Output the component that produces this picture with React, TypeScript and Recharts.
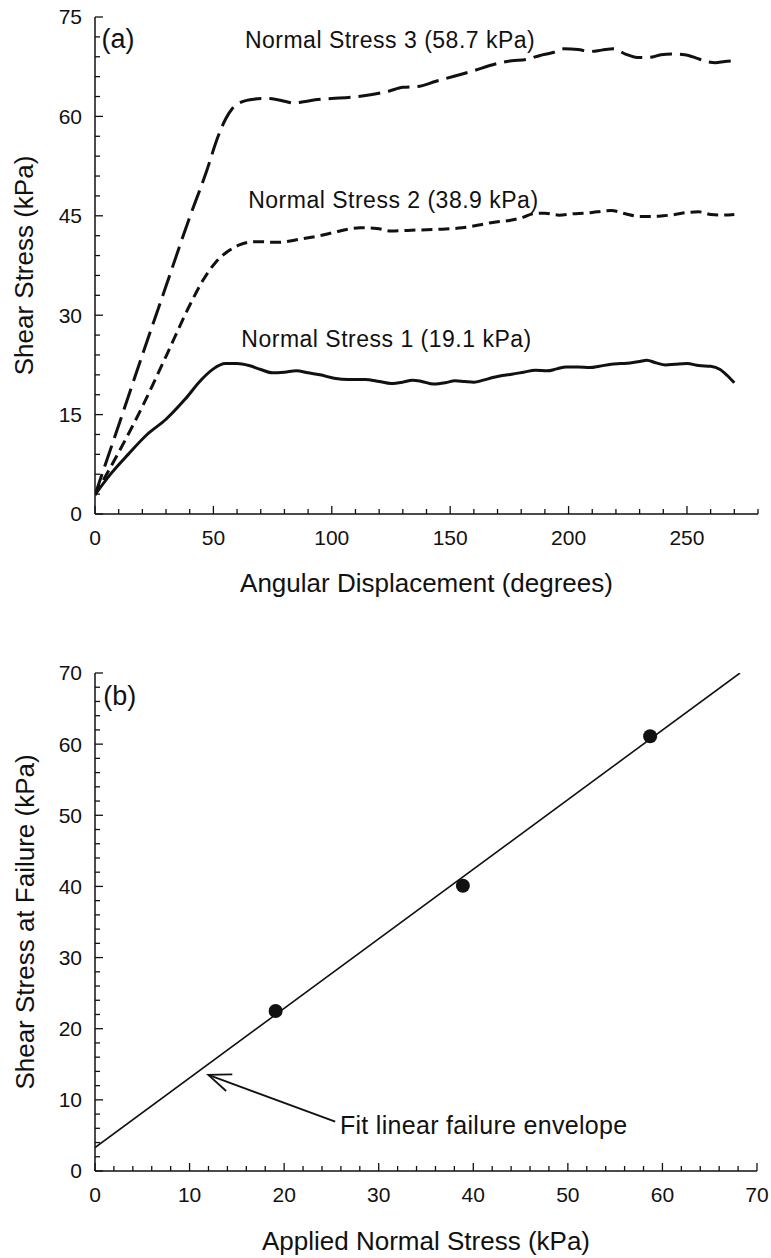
import React from "react";
import {
  LineChart,
  Line,
  ComposedChart,
  Scatter,
  XAxis,
  YAxis,
  Label,
  ReferenceDot,
  ReferenceLine,
} from "recharts";

const FONT = '"Liberation Sans", Arial, Helvetica, sans-serif';
const INK = "#111";

// (a) shear stress vs angular displacement, one pair of arrays per normal stress
const ns1Deg = [0, 7, 14, 22, 30, 38, 45, 50, 55, 60, 65, 70, 75, 80, 85, 90, 95, 101, 107, 114, 120, 125, 130, 134, 138, 143, 148, 152, 156, 160, 164, 168, 172, 176, 181, 186, 191, 195, 199, 204, 209, 213, 218, 222, 226, 230, 233, 237, 241, 245, 250, 255, 260, 264, 267, 270];
const ns1Shear = [2.9, 6.2, 9.0, 12.0, 14.3, 17.3, 20.3, 21.9, 22.7, 22.7, 22.4, 21.8, 21.3, 21.4, 21.6, 21.3, 21.0, 20.5, 20.3, 20.3, 20.0, 19.7, 19.9, 20.2, 20.0, 19.6, 19.8, 20.1, 20.0, 19.9, 20.2, 20.6, 20.9, 21.1, 21.4, 21.7, 21.6, 21.9, 22.2, 22.2, 22.1, 22.3, 22.6, 22.7, 22.8, 23.0, 23.2, 22.8, 22.5, 22.6, 22.7, 22.4, 22.3, 21.8, 20.9, 19.8];

const ns2Deg = [0, 10, 20, 30, 40, 46, 51, 56, 61, 68, 77, 87, 95, 101, 107, 112, 119, 125, 132, 140, 148, 155, 162, 168, 175, 181, 185, 190, 196, 202, 207, 212, 218, 224, 230, 236, 240, 245, 250, 255, 260, 265, 270];
const ns2Shear = [2.9, 9.3, 16.2, 23.8, 31.5, 35.5, 38.0, 39.6, 40.6, 41.1, 41.0, 41.5, 42.0, 42.5, 43.0, 43.2, 43.1, 42.7, 42.8, 42.9, 43.0, 43.2, 43.6, 44.0, 44.3, 44.8, 45.3, 45.4, 45.1, 45.3, 45.4, 45.6, 45.8, 45.3, 44.9, 44.9, 45.0, 45.2, 45.5, 45.6, 45.2, 45.1, 45.2];

const ns3Deg = [0, 10, 20, 30, 40, 47, 52, 55, 58, 62, 67, 72, 76, 80, 84, 88, 93, 100, 108, 117, 124, 130, 136, 144, 152, 160, 168, 176, 182, 188, 193, 198, 204, 209, 214, 219, 224, 229, 234, 239, 244, 249, 254, 258, 262, 266, 270];
const ns3Shear = [2.9, 13.4, 24.0, 34.4, 44.8, 51.6, 57.0, 59.5, 61.2, 62.2, 62.6, 62.7, 62.6, 62.3, 62.0, 62.2, 62.5, 62.7, 62.9, 63.3, 63.8, 64.4, 64.5, 65.3, 66.1, 66.9, 67.8, 68.4, 68.6, 69.2, 69.6, 70.2, 70.1, 69.8, 70.0, 70.2, 69.4, 68.9, 68.9, 69.3, 69.4, 69.3, 68.8, 68.3, 68.1, 68.3, 68.4];

// (b) failure envelope
const appliedNormal = [19.1, 38.9, 58.7];
const shearAtFailure = [22.5, 40.1, 61.1];
const envelopeX = [0, 68.2];
const envelopeY = [3.3, 70];

const stepTicks = (max: number, step: number) => {
  const out: number[] = [];
  for (let v = 0; v <= max + 1e-9; v += step) out.push(+v.toFixed(4));
  return out;
};

const angleTicks = stepTicks(280, 10);
const shearTicks = stepTicks(75, 3);
const normalTicks = stepTicks(70, 2);
const failureTicks = stepTicks(70, 2);

const zip = (xs: number[], ys: number[]) => xs.map((x, i) => ({ x, y: ys[i] }));

const isMajor = (v: number, major: number) => Math.abs(v / major - Math.round(v / major)) < 1e-6;

const MAJOR = 8;
const MINOR = 5;

const tickBottom = (major: number) => (p: any) => {
  const big = isMajor(p.payload.value, major);
  return (
    <g>
      <line x1={p.x} y1={p.y} x2={p.x} y2={p.y - (big ? MAJOR : MINOR)} stroke={INK} strokeWidth={1.3} />
      {big && (
        <text x={p.x} y={p.y + 31} textAnchor="middle" fontSize={21} fontFamily={FONT} fill={INK}>
          {p.payload.value}
        </text>
      )}
    </g>
  );
};

const tickTop = (major: number) => (p: any) => {
  const big = isMajor(p.payload.value, major);
  return <line x1={p.x} y1={p.y} x2={p.x} y2={p.y + (big ? MAJOR : MINOR)} stroke={INK} strokeWidth={1.3} />;
};

const tickLeft = (major: number) => (p: any) => {
  const big = isMajor(p.payload.value, major);
  return (
    <g>
      <line x1={p.x} y1={p.y} x2={p.x + (big ? MAJOR : MINOR)} y2={p.y} stroke={INK} strokeWidth={1.3} />
      {big && (
        <text x={p.x - 13} y={p.y} dy="0.355em" textAnchor="end" fontSize={21} fontFamily={FONT} fill={INK}>
          {p.payload.value}
        </text>
      )}
    </g>
  );
};

const tickRight = (major: number) => (p: any) => {
  const big = isMajor(p.payload.value, major);
  return <line x1={p.x} y1={p.y} x2={p.x - (big ? MAJOR : MINOR)} y2={p.y} stroke={INK} strokeWidth={1.3} />;
};

const note = (text: string, size: number, spacing = 0) => (p: any) => (
  <text x={p.cx} y={p.cy} dy="0.355em" fontSize={size} fontFamily={FONT} fill={INK} letterSpacing={spacing}>
    {text}
  </text>
);

const arrow = (p: any) => {
  const { x1, y1, x2, y2 } = p;
  const a = Math.atan2(y2 - y1, x2 - x1);
  const len = 24;
  const spread = 0.38;
  const w1x = x2 - len * Math.cos(a - spread);
  const w1y = y2 - len * Math.sin(a - spread);
  const w2x = x2 - len * Math.cos(a + spread);
  const w2y = y2 - len * Math.sin(a + spread);
  return (
    <g stroke={INK} strokeWidth={1.8} fill="none">
      <line x1={x1} y1={y1} x2={x2} y2={y2} />
      <polyline points={`${w1x},${w1y} ${x2},${y2} ${w2x},${w2y}`} />
    </g>
  );
};

const frame = { stroke: INK, strokeWidth: 1.5 };
const titleProps = { fontSize: 26, fontFamily: FONT, fill: INK };

function DisplacementChart() {
  return (
    <LineChart width={771} height={620} margin={{ top: 17, right: 13, left: 0, bottom: 0 }}>
      <XAxis
        xAxisId="b"
        type="number"
        dataKey="x"
        domain={[0, 280]}
        ticks={angleTicks}
        interval={0}
        allowDataOverflow
        height={106}
        tickSize={0}
        tickMargin={0}
        axisLine={frame}
        tick={tickBottom(50)}
      >
        <Label value="Angular Displacement (degrees)" position="insideBottom" offset={28} {...titleProps} />
      </XAxis>
      <XAxis
        xAxisId="t"
        orientation="top"
        type="number"
        domain={[0, 280]}
        ticks={angleTicks}
        interval={0}
        allowDataOverflow
        height={0}
        tickSize={0}
        tickMargin={0}
        axisLine={frame}
        tick={tickTop(50)}
      />
      <YAxis
        yAxisId="l"
        type="number"
        domain={[0, 75]}
        ticks={shearTicks}
        interval={0}
        allowDataOverflow
        width={95}
        tickSize={0}
        tickMargin={0}
        axisLine={frame}
        tick={tickLeft(15)}
      >
        <Label
          value="Shear Stress (kPa)"
          position="insideLeft"
          angle={-90}
          offset={24}
          style={{ textAnchor: "middle" }}
          {...titleProps}
        />
      </YAxis>
      <YAxis
        yAxisId="r"
        orientation="right"
        type="number"
        domain={[0, 75]}
        ticks={shearTicks}
        interval={0}
        allowDataOverflow
        width={0}
        tickSize={0}
        tickMargin={0}
        axisLine={frame}
        tick={tickRight(15)}
      />
      <Line
        xAxisId="b"
        yAxisId="l"
        data={zip(ns1Deg, ns1Shear)}
        dataKey="y"
        type="monotone"
        stroke={INK}
        strokeWidth={3}
        dot={false}
        activeDot={false}
        isAnimationActive={false}
      />
      <Line
        xAxisId="b"
        yAxisId="l"
        data={zip(ns2Deg, ns2Shear)}
        dataKey="y"
        type="monotone"
        stroke={INK}
        strokeWidth={3}
        strokeDasharray="11 6"
        dot={false}
        activeDot={false}
        isAnimationActive={false}
      />
      <Line
        xAxisId="b"
        yAxisId="l"
        data={zip(ns3Deg, ns3Shear)}
        dataKey="y"
        type="monotone"
        stroke={INK}
        strokeWidth={3}
        strokeDasharray="22 8"
        dot={false}
        activeDot={false}
        isAnimationActive={false}
      />
      <ReferenceDot xAxisId="b" yAxisId="l" x={2.75} y={71.8} r={0} shape={note("(a)", 27)} />
      <ReferenceDot xAxisId="b" yAxisId="l" x={63.3} y={71.6} r={0} shape={note("Normal Stress 3 (58.7 kPa)", 23, 0.5)} />
      <ReferenceDot xAxisId="b" yAxisId="l" x={64.7} y={47.4} r={0} shape={note("Normal Stress 2 (38.9 kPa)", 23, 0.5)} />
      <ReferenceDot xAxisId="b" yAxisId="l" x={61.8} y={26.4} r={0} shape={note("Normal Stress 1 (19.1 kPa)", 23, 0.5)} />
    </LineChart>
  );
}

function EnvelopeChart() {
  return (
    <ComposedChart width={771} height={638} margin={{ top: 53, right: 14, left: 0, bottom: 0 }}>
      <XAxis
        xAxisId="b"
        type="number"
        dataKey="x"
        domain={[0, 70]}
        ticks={normalTicks}
        interval={0}
        allowDataOverflow
        height={87}
        tickSize={0}
        tickMargin={0}
        axisLine={frame}
        tick={tickBottom(10)}
      >
        <Label value="Applied Normal Stress (kPa)" position="insideBottom" offset={8} {...titleProps} />
      </XAxis>
      <XAxis
        xAxisId="t"
        orientation="top"
        type="number"
        domain={[0, 70]}
        ticks={normalTicks}
        interval={0}
        allowDataOverflow
        height={0}
        tickSize={0}
        tickMargin={0}
        axisLine={frame}
        tick={tickTop(10)}
      />
      <YAxis
        yAxisId="l"
        type="number"
        domain={[0, 70]}
        ticks={failureTicks}
        interval={0}
        allowDataOverflow
        width={95}
        tickSize={0}
        tickMargin={0}
        axisLine={frame}
        tick={tickLeft(10)}
      >
        <Label
          value="Shear Stress at Failure (kPa)"
          position="insideLeft"
          angle={-90}
          offset={25}
          style={{ textAnchor: "middle" }}
          {...titleProps}
        />
      </YAxis>
      <YAxis
        yAxisId="r"
        orientation="right"
        type="number"
        domain={[0, 70]}
        ticks={failureTicks}
        interval={0}
        allowDataOverflow
        width={0}
        tickSize={0}
        tickMargin={0}
        axisLine={frame}
        tick={tickRight(10)}
      />
      <Line
        xAxisId="b"
        yAxisId="l"
        data={zip(envelopeX, envelopeY)}
        dataKey="y"
        type="linear"
        stroke={INK}
        strokeWidth={1.6}
        dot={false}
        activeDot={false}
        isAnimationActive={false}
      />
      <Scatter
        xAxisId="b"
        yAxisId="l"
        data={zip(appliedNormal, shearAtFailure)}
        dataKey="y"
        fill={INK}
        shape={(p: any) => <circle cx={p.cx} cy={p.cy} r={7} fill={INK} />}
        isAnimationActive={false}
      />
      <ReferenceLine
        xAxisId="b"
        yAxisId="l"
        segment={[
          { x: 25.4, y: 6.93 },
          { x: 11.98, y: 13.5 },
        ]}
        shape={arrow}
      />
      <ReferenceDot xAxisId="b" yAxisId="l" x={0.88} y={66.8} r={0} shape={note("(b)", 27)} />
      <ReferenceDot xAxisId="b" yAxisId="l" x={25.9} y={6.47} r={0} shape={note("Fit linear failure envelope", 25, 0.3)} />
    </ComposedChart>
  );
}

export default function App() {
  return (
    <div style={{ position: "absolute", left: 0, top: 0, width: 771, height: 1258, background: "#fff" }}>
      <DisplacementChart />
      <EnvelopeChart />
    </div>
  );
}
